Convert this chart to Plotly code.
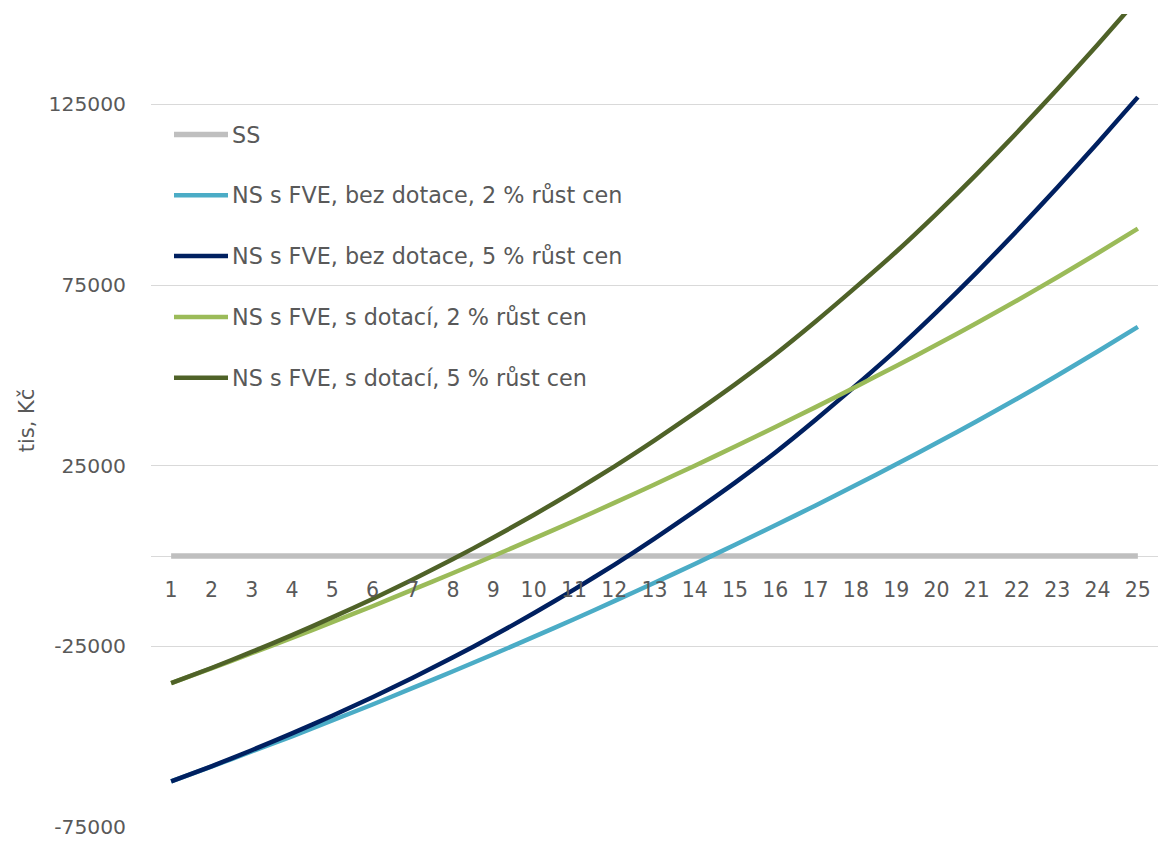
import plotly.graph_objects as go

# Years of operation
years = list(range(1, 26))

# Cumulative balance, thousands CZK
ss = [0] * 25
bez_dotace_2 = [-62400, -58300, -54100, -49900, -45500, -41100, -36500, -31900, -27200, -22400,
                -17500, -12500, -7400, -2200, 3100, 8500, 14000, 19650, 25400, 31250,
                37300, 43500, 49950, 56600, 63400]
bez_dotace_5 = [-62400, -58200, -53750, -49100, -44200, -39100, -33700, -28050, -22100, -15850,
                -9300, -2450, 4800, 12400, 20300, 28650, 37700, 47200, 57000, 67500,
                78500, 90000, 102000, 114300, 127000]
s_dotaci_2 = [-35200, -31100, -26900, -22700, -18300, -13900, -9300, -4700, 0, 4800,
              9700, 14700, 19800, 25000, 30300, 35700, 41200, 46850, 52600, 58450,
              64500, 70700, 77150, 83800, 90600]
s_dotaci_5 = [-35200, -31000, -26550, -21900, -17000, -11900, -6500, -850, 5100, 11350,
              17900, 24750, 32000, 39600, 47500, 55850, 64900, 74400, 84200, 94700,
              105700, 117200, 129200, 141500, 154200]

series_names = ["SS",
                "NS s FVE, bez dotace, 2 % růst cen",
                "NS s FVE, bez dotace, 5 % růst cen",
                "NS s FVE, s dotací, 2 % růst cen",
                "NS s FVE, s dotací, 5 % růst cen"]
series_values = [ss, bez_dotace_2, bez_dotace_5, s_dotaci_2, s_dotaci_5]
series_colors = ["#BFBFBF", "#4BACC6", "#002060", "#9BBB59", "#4F6228"]
series_widths = [5.5, 4.5, 4.5, 4.5, 4.5]

y_ticks = [-75000, -25000, 25000, 75000, 125000]
y_range = [-75000, 150000]

FONT = "DejaVu Sans"
TEXT = "#595959"
W, H = 1161, 841
ML, MR, MT, MB = 151, 3, 14, 14

fig = go.Figure()
for name, vals, col, lw in zip(series_names, series_values, series_colors, series_widths):
    fig.add_trace(go.Scatter(x=years, y=vals, mode="lines", name=name,
                             line=dict(color=col, width=lw, shape="spline", smoothing=0.6),
                             showlegend=False, cliponaxis=True))

# Legend drawn as swatches + labels in the upper-left of the plot area
pw, ph = W - ML - MR, H - MT - MB
def px_to_paper(px, py):
    return (px - ML) / pw, (H - MB - py) / ph

leg_top, leg_step = 134.5, 60.8
for i, (name, col, lw) in enumerate(zip(series_names, series_colors, series_widths)):
    cy = leg_top + i * leg_step
    x0, y0 = px_to_paper(174, cy)
    x1, _ = px_to_paper(228, cy)
    fig.add_shape(type="line", xref="paper", yref="paper", x0=x0, x1=x1, y0=y0, y1=y0,
                  line=dict(color=col, width=lw), layer="above")
    tx, _ = px_to_paper(230, cy)
    fig.add_annotation(xref="paper", yref="paper", x=tx, y=y0, text=name, showarrow=False,
                       xanchor="left", yanchor="middle",
                       font=dict(family=FONT, size=22.3, color=TEXT))

fig.update_layout(
    width=W, height=H,
    margin=dict(l=ML, r=MR, t=MT, b=MB, pad=0),
    paper_bgcolor="white", plot_bgcolor="white",
    showlegend=False,
    font=dict(family=FONT, color=TEXT, size=20),
)
fig.update_xaxes(
    range=[0.5, 25.5], tickmode="array", tickvals=years, ticktext=[str(y) for y in years],
    showgrid=False, zeroline=False, showline=False, ticks="",
    anchor="free", position=(0 - y_range[0]) / (y_range[1] - y_range[0]),
    ticklabelstandoff=19,
    tickfont=dict(family=FONT, size=20.5, color=TEXT),
)
fig.update_yaxes(
    range=y_range, tickmode="array", tickvals=y_ticks, ticktext=[str(v) for v in y_ticks],
    showgrid=True, gridcolor="#D9D9D9", gridwidth=1.3,
    zeroline=True, zerolinecolor="#D9D9D9", zerolinewidth=1.3,
    showline=False, ticks="", ticklabelstandoff=24,
    tickfont=dict(family=FONT, size=20.3, color=TEXT),
    title=dict(text="tis, Kč", font=dict(family=FONT, size=21, color=TEXT), standoff=8),
)

fig.write_html("out.html")
